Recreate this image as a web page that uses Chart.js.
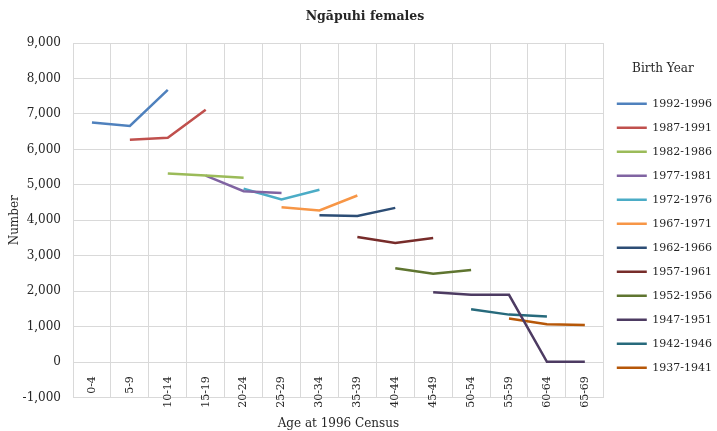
<!DOCTYPE html>
<html>
<head>
<meta charset="utf-8">
<script src="https://cdn.jsdelivr.net/npm/chart.js@4"></script>
<style>
  html, body { margin: 0; padding: 0; background: #fff; }
  #wrap { width: 717px; height: 431px; }
</style>
</head>
<body>
<div id="wrap"><canvas id="chart"></canvas></div>
<script>
const ages = ['0-4', '5-9', '10-14', '15-19', '20-24', '25-29', '30-34', '35-39', '40-44', '45-49', '50-54', '55-59', '60-64', '65-69'];
const yTicks = [-1000, 0, 1000, 2000, 3000, 4000, 5000, 6000, 7000, 8000, 9000];

// one cohort per series, null where the cohort has no value
const c1992 = [6760, 6660, 7680, null, null, null, null, null, null, null, null, null, null, null];
const c1987 = [null, 6270, 6330, 7120, null, null, null, null, null, null, null, null, null, null];
const c1982 = [null, null, 5320, 5260, 5200, null, null, null, null, null, null, null, null, null];
const c1977 = [null, null, null, 5260, 4820, 4770, null, null, null, null, null, null, null, null];
const c1972 = [null, null, null, null, 4890, 4590, 4860, null, null, null, null, null, null, null];
const c1967 = [null, null, null, null, null, 4370, 4280, 4700, null, null, null, null, null, null];
const c1962 = [null, null, null, null, null, null, 4140, 4120, 4350, null, null, null, null, null];
const c1957 = [null, null, null, null, null, null, null, 3530, 3360, 3500, null, null, null, null];
const c1952 = [null, null, null, null, null, null, null, null, 2650, 2490, 2600, null, null, null];
const c1947 = [null, null, null, null, null, null, null, null, null, 1970, 1900, 1900, 10, 10];
const c1942 = [null, null, null, null, null, null, null, null, null, null, 1490, 1340, 1290, null];
const c1937 = [null, null, null, null, null, null, null, null, null, null, null, 1230, 1070, 1050];

const cohortNames = ['1992-1996', '1987-1991', '1982-1986', '1977-1981', '1972-1976', '1967-1971',
    '1962-1966', '1957-1961', '1952-1956', '1947-1951', '1942-1946', '1937-1941'];
const cohortValues = [c1992, c1987, c1982, c1977, c1972, c1967, c1962, c1957, c1952, c1947, c1942, c1937];
const cohortColors = ['#4F81BD', '#C0504D', '#9BBB59', '#8064A2', '#4BACC6', '#F79646',
    '#2C4D75', '#772C2A', '#5F7530', '#4D3B62', '#276A7C', '#B65708'];

const serif = 'DejaVu Serif';
const textColor = '#262626';
const gridColor = '#d9d9d9';

const datasets = cohortNames.map((name, i) => ({
    label: name,
    data: cohortValues[i],
    borderColor: cohortColors[i],
    backgroundColor: cohortColors[i],
    borderWidth: 2.5,
    pointRadius: 0,
    tension: 0,
    xAxisID: 'x'
}));

new Chart(document.getElementById('chart'), {
    type: 'line',
    data: { labels: ages, datasets: datasets },
    options: {
        responsive: true,
        maintainAspectRatio: false,
        animation: false,
        locale: 'en-US',
        layout: { padding: { left: 8, right: -5, top: 0, bottom: 0 } },
        plugins: {
            tooltip: { enabled: false },
            title: {
                display: true,
                text: 'Ngāpuhi females',
                color: textColor,
                font: { family: serif, size: 12.5, weight: 'bold' },
                padding: { top: 9, bottom: 19 }
            },
            legend: {
                position: 'right',
                title: {
                    display: true,
                    text: 'Birth Year',
                    color: textColor,
                    position: 'center',
                    font: { family: serif, size: 12 },
                    padding: { top: 18, bottom: 8 }
                },
                labels: {
                    color: textColor,
                    font: { family: serif, size: 11 },
                    usePointStyle: true,
                    pointStyle: 'line',
                    pointStyleWidth: 30,
                    boxHeight: 11,
                    padding: 13
                }
            }
        },
        scales: {
            x: {
                type: 'category',
                position: 'bottom',
                offset: true,
                grid: { color: gridColor, offset: true, drawTicks: false },
                border: { color: gridColor },
                ticks: { display: false },
                title: {
                    display: true,
                    text: 'Age at 1996 Census',
                    color: textColor,
                    font: { family: serif, size: 12 },
                    padding: { top: 19, bottom: 0 }
                }
            },
            xlab: {
                type: 'category',
                axis: 'x',
                labels: ages,
                position: { y: 0 },
                offset: true,
                grid: { display: false },
                border: { display: false },
                ticks: {
                    autoSkip: false,
                    minRotation: 90,
                    maxRotation: 90,
                    padding: 6,
                    color: textColor,
                    font: { family: serif, size: 11 }
                }
            },
            y: {
                min: yTicks[0],
                max: yTicks[yTicks.length - 1],
                afterBuildTicks: scale => { scale.ticks = yTicks.map(v => ({ value: v })); },
                afterFit: scale => { scale.width = 65; },
                grid: { color: gridColor, drawTicks: false },
                border: { color: gridColor },
                ticks: {
                    padding: 12,
                    color: textColor,
                    font: { family: serif, size: 12 }
                },
                title: {
                    display: true,
                    text: 'Number',
                    color: textColor,
                    font: { family: serif, size: 12 },
                    padding: { top: 0, bottom: 0 }
                }
            }
        }
    }
});
</script>
</body>
</html>
